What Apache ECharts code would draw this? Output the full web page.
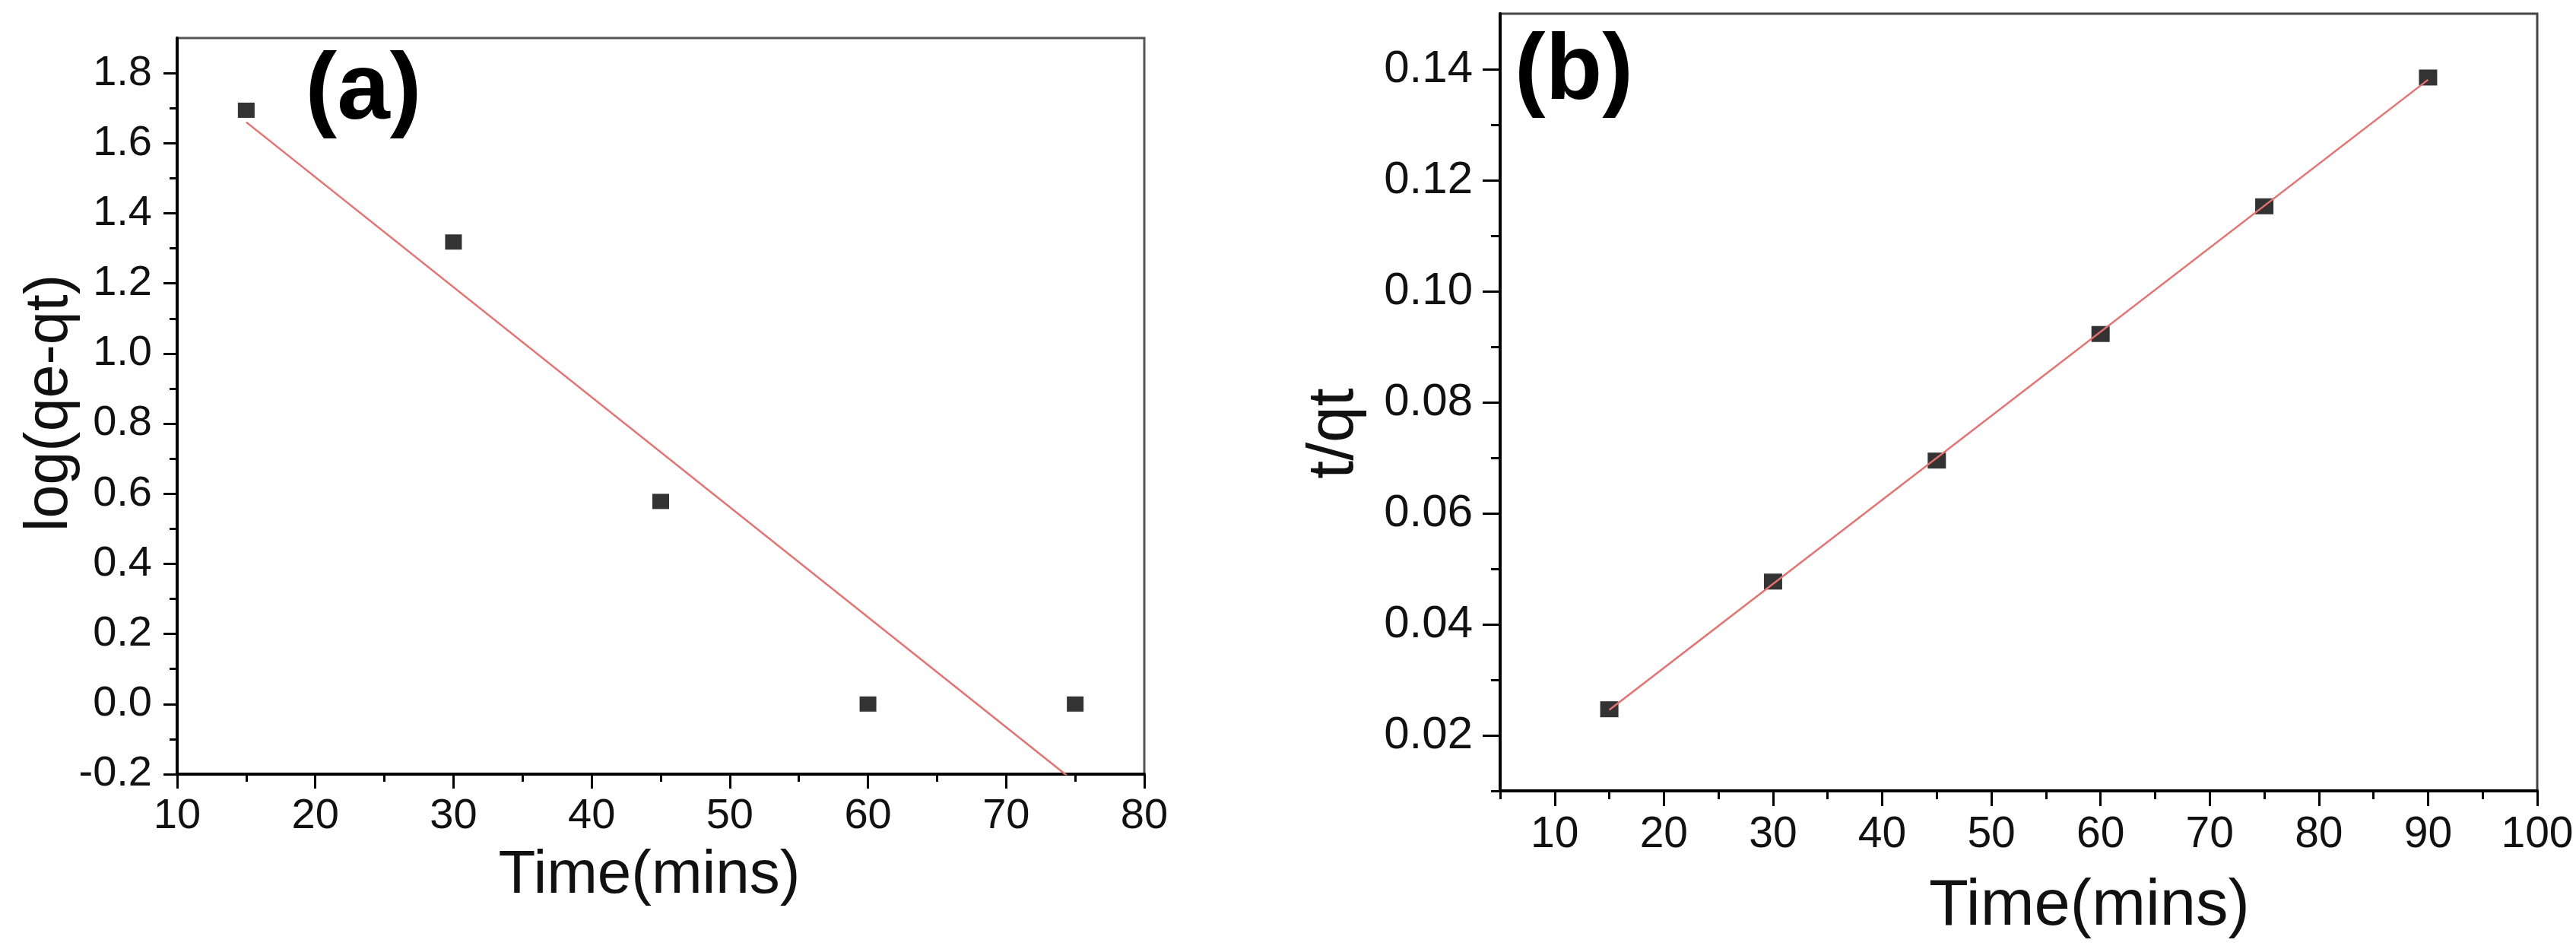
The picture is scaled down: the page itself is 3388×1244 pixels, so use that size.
<!DOCTYPE html>
<html>
<head>
<meta charset="utf-8">
<script src="https://cdn.jsdelivr.net/npm/echarts@6/dist/echarts.min.js"></script>
<style>
  html, body { margin: 0; padding: 0; background: #fff; }
  #chart { width: 3388px; height: 1244px; }
</style>
</head>
<body>
<div id="chart"></div>
<script>
// panel (a): log(qe-qt) vs time
const timeA = [15, 30, 45, 60, 75];
const logQeQt = [1.694, 1.318, 0.578, 0.0, 0.0];
const fitA = [[15, 1.66], [75, -0.223]];
const xTicksA = [10, 20, 30, 40, 50, 60, 70, 80];
const xMinorA = [15, 25, 35, 45, 55, 65, 75];
const yTicksA = [-0.2, 0, 0.2, 0.4, 0.6, 0.8, 1.0, 1.2, 1.4, 1.6, 1.8];
const yMinorA = [-0.1, 0.1, 0.3, 0.5, 0.7, 0.9, 1.1, 1.3, 1.5, 1.7];

// panel (b): t/qt vs time
const timeB = [15, 30, 45, 60, 75, 90];
const tQt = [0.0247, 0.0477, 0.0695, 0.0923, 0.1153, 0.1385];
const fitB = [[15, 0.0246], [90, 0.1381]];
const xTicksB = [10, 20, 30, 40, 50, 60, 70, 80, 90, 100];
const xMinorB = [5, 15, 25, 35, 45, 55, 65, 75, 85, 95];
const yTicksB = [0.02, 0.04, 0.06, 0.08, 0.10, 0.12, 0.14];
const yMinorB = [0.01, 0.03, 0.05, 0.07, 0.09, 0.11, 0.13];

const FONT = '"Liberation Sans", Arial, sans-serif';
const RED = '#e8706e';

function axisPair(dim, grid, min, max, major, minor, lenMajor, lenMinor, margin, fontSize, fmt) {
  const position = dim === 'x' ? 'bottom' : 'left';
  const main = {
    type: 'value', gridIndex: grid, position, min, max,
    axisLine: { onZero: false, lineStyle: { color: '#000', width: 4 } },
    axisTick: { customValues: major, length: lenMajor, lineStyle: { color: '#000', width: 3 } },
    axisLabel: {
      customValues: major, margin, fontSize, color: '#111', fontFamily: FONT,
      formatter: fmt
    },
    splitLine: { show: false }
  };
  // second axis only carries the short minor ticks
  const sub = {
    type: 'value', gridIndex: grid, position, min, max,
    axisLine: { show: false, onZero: false },
    axisTick: { customValues: minor, length: lenMinor, lineStyle: { color: '#000', width: 3 } },
    axisLabel: { show: false },
    splitLine: { show: false }
  };
  return [main, sub];
}

const xA = axisPair('x', 0, 10, 80, xTicksA, xMinorA, 19, 10, 28, 56, v => String(v));
const yA = axisPair('y', 0, -0.2, 1.9, yTicksA, yMinorA, 18, 10, 33, 56, v => v.toFixed(1));
const xB = axisPair('x', 1, 5, 100, xTicksB, xMinorB, 20, 11, 30, 57, v => String(v));
const yB = axisPair('y', 1, 0.01, 0.15, yTicksB, yMinorB, 23, 12, 36, 60, v => v.toFixed(2));

const chart = echarts.init(document.getElementById('chart'));

chart.setOption({
  animation: false,
  backgroundColor: '#fff',
  grid: [
    { left: 233, top: 50, right: 1883, bottom: 226, show: true, borderColor: '#555', borderWidth: 3 },
    { left: 1973, top: 18, right: 51, bottom: 204, show: true, borderColor: '#444', borderWidth: 3 }
  ],
  xAxis: [xA[0], xA[1], xB[0], xB[1]],
  yAxis: [yA[0], yA[1], yB[0], yB[1]],
  series: [
    {
      name: 'fit a', type: 'line', xAxisIndex: 0, yAxisIndex: 0,
      data: fitA, showSymbol: false, clip: true, z: 2,
      lineStyle: { color: RED, width: 2.5 }
    },
    {
      name: 'log(qe-qt)', type: 'scatter', xAxisIndex: 0, yAxisIndex: 0,
      data: timeA.map((t, i) => [t, logQeQt[i]]),
      symbol: 'rect', symbolSize: [22, 20], z: 3,
      itemStyle: { color: '#000' }
    },
    {
      name: 't/qt', type: 'scatter', xAxisIndex: 2, yAxisIndex: 2,
      data: timeB.map((t, i) => [t, tQt[i]]),
      symbol: 'rect', symbolSize: [24, 21], z: 2,
      itemStyle: { color: '#000' }
    },
    {
      name: 'fit b', type: 'line', xAxisIndex: 2, yAxisIndex: 2,
      data: fitB, showSymbol: false, clip: true, z: 3,
      lineStyle: { color: RED, width: 2.5 }
    }
  ],
  graphic: [
    {
      type: 'text', x: 478, y: 122,
      style: { text: '(a)', fill: '#000', font: 'bold 125px ' + FONT, align: 'center', verticalAlign: 'middle', textAlign: 'center', textVerticalAlign: 'middle' }
    },
    {
      type: 'text', x: 2070, y: 96,
      style: { text: '(b)', fill: '#000', font: 'bold 122px ' + FONT, align: 'center', verticalAlign: 'middle', textAlign: 'center', textVerticalAlign: 'middle' }
    },
    {
      type: 'text', x: 66, y: 530, rotation: Math.PI / 2,
      style: { text: 'log(qe-qt)', fill: '#111', font: '79px ' + FONT, align: 'center', verticalAlign: 'middle', textAlign: 'center', textVerticalAlign: 'middle' }
    },
    {
      type: 'text', x: 854, y: 1152,
      style: { text: 'Time(mins)', fill: '#111', font: '80px ' + FONT, align: 'center', verticalAlign: 'middle', textAlign: 'center', textVerticalAlign: 'middle' }
    },
    {
      type: 'text', x: 1755, y: 570, rotation: Math.PI / 2,
      style: { text: 't/qt', fill: '#111', font: '86px ' + FONT, align: 'center', verticalAlign: 'middle', textAlign: 'center', textVerticalAlign: 'middle' }
    },
    {
      type: 'text', x: 2748, y: 1193,
      style: { text: 'Time(mins)', fill: '#111', font: '85px ' + FONT, align: 'center', verticalAlign: 'middle', textAlign: 'center', textVerticalAlign: 'middle' }
    }
  ]
});
</script>
</body>
</html>
